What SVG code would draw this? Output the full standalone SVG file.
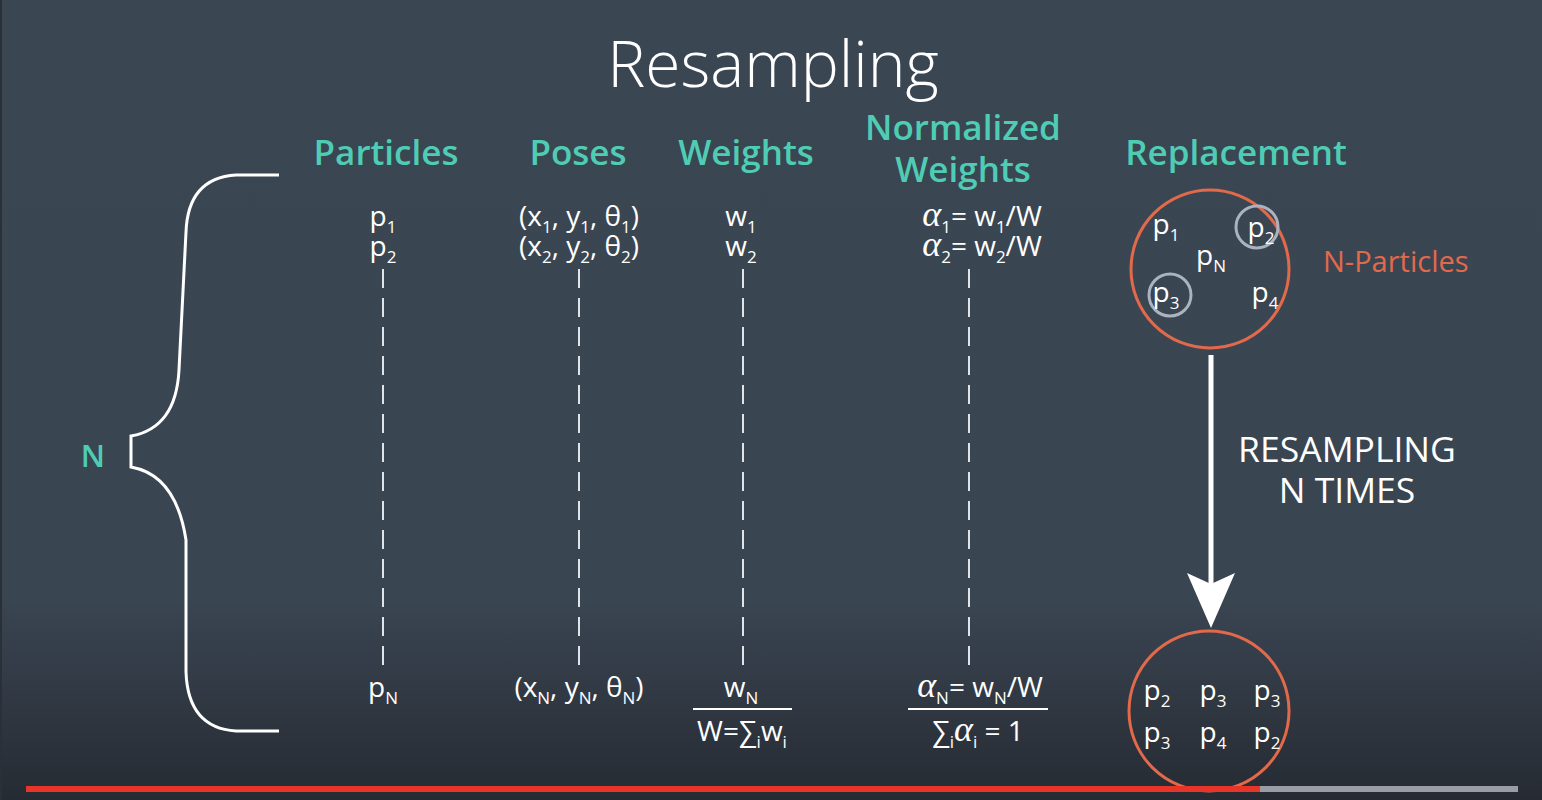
<svg xmlns="http://www.w3.org/2000/svg" width="1542" height="800" viewBox="0 0 1542 800">
<defs>
<linearGradient id="bg" x1="0" y1="0" x2="0" y2="1">
<stop offset="0" stop-color="#3b4653"/>
<stop offset="0.75" stop-color="#3a4552"/>
<stop offset="1" stop-color="#262b33"/>
</linearGradient>
<style>
.t{font-family:"Open Sans","Liberation Sans",sans-serif;fill:#ffffff}
.title{font-size:64px;font-weight:300}
.hd{font-size:35px;font-weight:600;fill:#4fcdb4;text-anchor:middle}
.v{font-size:28px;text-anchor:middle}
.s{font-size:17px}
.al{font-family:"Liberation Serif","DejaVu Serif",serif;font-style:italic;font-size:36px}
.dash{stroke:#dfe4ea;stroke-width:2;stroke-dasharray:19 10;fill:none}
.rule{stroke:#ffffff;stroke-width:2}
.oc{fill:none;stroke:#e3694b;stroke-width:3}
.gc{fill:none;stroke:#aab3bf;stroke-width:3}
</style>
</defs>
<rect width="1542" height="800" fill="url(#bg)"/>
<rect x="0" y="0" width="2" height="800" fill="#2a3038"/>

<text class="t title" x="773" y="87" text-anchor="middle">Resampling</text>

<g id="brace">
<path d="M279 175 L236 175 Q188 178 186 232 L179 370 Q176 428 131 436 L131 467 Q176 475 186 540 L186 672 Q188 728 236 731 L279 731" fill="none" stroke="#ffffff" stroke-width="3"/>
<text class="t" x="93" y="467" text-anchor="middle" font-size="31" font-weight="600" style="fill:#4fcdb4">N</text>
</g>

<g id="col-particles">
<text class="t hd" x="386" y="165">Particles</text>
<text class="t v" x="383" y="226">p<tspan class="s" dy="7">1</tspan></text>
<text class="t v" x="383" y="256">p<tspan class="s" dy="7">2</tspan></text>
<text class="t v" x="383" y="697">p<tspan class="s" dy="7">N</tspan></text>
</g>

<g id="col-poses">
<text class="t hd" x="578" y="165">Poses</text>
<text class="t v" x="579" y="226">(x<tspan class="s" dy="7">1</tspan><tspan dy="-7">, y</tspan><tspan class="s" dy="7">1</tspan><tspan dy="-7">, θ</tspan><tspan class="s" dy="7">1</tspan><tspan dy="-7">)</tspan></text>
<text class="t v" x="579" y="256">(x<tspan class="s" dy="7">2</tspan><tspan dy="-7">, y</tspan><tspan class="s" dy="7">2</tspan><tspan dy="-7">, θ</tspan><tspan class="s" dy="7">2</tspan><tspan dy="-7">)</tspan></text>
<text class="t v" x="579" y="697">(x<tspan class="s" dy="7">N</tspan><tspan dy="-7">, y</tspan><tspan class="s" dy="7">N</tspan><tspan dy="-7">, θ</tspan><tspan class="s" dy="7">N</tspan><tspan dy="-7">)</tspan></text>
</g>

<g id="col-weights">
<text class="t hd" x="746" y="165">Weights</text>
<text class="t v" x="741" y="226">w<tspan class="s" dy="7">1</tspan></text>
<text class="t v" x="741" y="256">w<tspan class="s" dy="7">2</tspan></text>
<text class="t v" x="741" y="697">w<tspan class="s" dy="7">N</tspan></text>
<line class="rule" x1="693" y1="709" x2="792" y2="709"/>
<text class="t v" x="742" y="741">W=∑<tspan class="s" dy="7">i</tspan><tspan dy="-7">w</tspan><tspan class="s" dy="7">i</tspan></text>
</g>

<g id="col-normalized">
<text class="t hd" x="963" y="140">Normalized</text>
<text class="t hd" x="963" y="182">Weights</text>
<text class="t v" x="982" y="226"><tspan class="al">α</tspan><tspan class="s" dy="7">1</tspan><tspan dy="-7">= w</tspan><tspan class="s" dy="7">1</tspan><tspan dy="-7">/W</tspan></text>
<text class="t v" x="982" y="256"><tspan class="al">α</tspan><tspan class="s" dy="7">2</tspan><tspan dy="-7">= w</tspan><tspan class="s" dy="7">2</tspan><tspan dy="-7">/W</tspan></text>
<text class="t v" x="980" y="697"><tspan class="al">α</tspan><tspan class="s" dy="7">N</tspan><tspan dy="-7">= w</tspan><tspan class="s" dy="7">N</tspan><tspan dy="-7">/W</tspan></text>
<line class="rule" x1="908" y1="709" x2="1048" y2="709"/>
<text class="t v" x="978" y="741">∑<tspan class="s" dy="7">i</tspan><tspan class="al" dy="-7">α</tspan><tspan class="s" dy="7">i</tspan><tspan dy="-7"> = 1</tspan></text>
</g>

<g id="replacement">
<text class="t hd" x="1236" y="165">Replacement</text>
<circle class="oc" cx="1210" cy="269" r="79"/>
<circle class="gc" cx="1257" cy="227" r="21"/>
<circle class="gc" cx="1170" cy="295" r="21"/>
<text class="t v" x="1166" y="234">p<tspan class="s" dy="7">1</tspan></text>
<text class="t v" x="1261" y="237">p<tspan class="s" dy="7">2</tspan></text>
<text class="t v" x="1211" y="265">p<tspan class="s" dy="7">N</tspan></text>
<text class="t v" x="1166" y="302">p<tspan class="s" dy="7">3</tspan></text>
<text class="t v" x="1265" y="302">p<tspan class="s" dy="7">4</tspan></text>
<text class="t" x="1323" y="272" font-size="29" style="fill:#e3694b">N-Particles</text>
</g>

<g id="resampled">
<circle class="oc" cx="1209" cy="711" r="80"/>
<text class="t v" x="1157" y="700">p<tspan class="s" dy="7">2</tspan></text>
<text class="t v" x="1213" y="700">p<tspan class="s" dy="7">3</tspan></text>
<text class="t v" x="1267" y="700">p<tspan class="s" dy="7">3</tspan></text>
<text class="t v" x="1157" y="742">p<tspan class="s" dy="7">3</tspan></text>
<text class="t v" x="1213" y="742">p<tspan class="s" dy="7">4</tspan></text>
<text class="t v" x="1267" y="742">p<tspan class="s" dy="7">2</tspan></text>
</g>

<g id="connectors">
<line class="dash" x1="383" y1="269" x2="383" y2="666"/>
<line class="dash" x1="579" y1="269" x2="579" y2="666"/>
<line class="dash" x1="743" y1="269" x2="743" y2="666"/>
<line class="dash" x1="969" y1="269" x2="969" y2="666"/>
<line x1="1211" y1="355" x2="1211" y2="585" stroke="#ffffff" stroke-width="5"/>
<path d="M1187 573 L1211 584 L1235 573 L1211 628 Z" fill="#ffffff"/>
<text class="t" x="1347" y="462" text-anchor="middle" font-size="35.5">RESAMPLING</text>
<text class="t" x="1347" y="503" text-anchor="middle" font-size="35.5">N TIMES</text>
</g>

<rect x="26" y="786" width="1234" height="6" fill="#e8352a"/>
<rect x="1260" y="786" width="258" height="6" fill="#9a9ea4"/>
</svg>
